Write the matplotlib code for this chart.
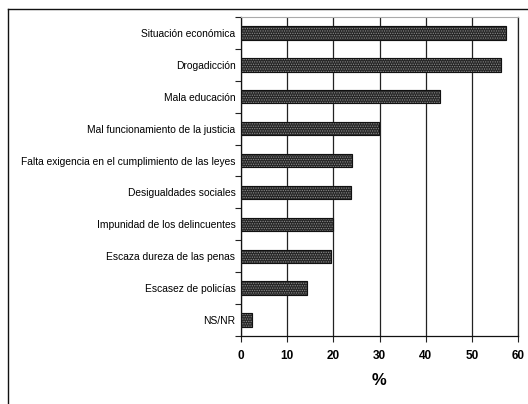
import matplotlib
matplotlib.use("Agg")
import matplotlib.pyplot as plt
import numpy as np
from matplotlib.lines import Line2D

categories = [
    "Situación económica",
    "Drogadicción",
    "Mala educación",
    "Mal funcionamiento de la justicia",
    "Falta exigencia en el cumplimiento de las leyes",
    "Desigualdades sociales",
    "Impunidad de los delincuentes",
    "Escaza dureza de las penas",
    "Escasez de policías",
    "NS/NR",
]
values = [57.3, 56.3, 43.2, 29.9, 24.1, 23.9, 20.0, 19.4, 14.2, 2.3]
xticks = [0, 10, 20, 30, 40, 50, 60]

plt.rcParams['font.family'] = ['Liberation Sans', 'DejaVu Sans']
plt.rcParams['hatch.linewidth'] = 0.6

fig = plt.figure(figsize=(5.28, 4.04), dpi=100)
ax = fig.add_axes([241/528, 68/404, 277/528, 319/404])

y = np.arange(len(categories))
ax.barh(y, values, height=0.42, color='#262626', edgecolor='#111111',
        hatch='.......', linewidth=0.8, zorder=3)
for b in ax.patches:
    b.set_edgecolor('#8a8a8a')
# redraw outline
ax.barh(y, values, height=0.42, facecolor='none', edgecolor='#111111',
        linewidth=0.8, zorder=4)

ax.set_xlim(0, 60)
ax.set_ylim(len(categories) - 0.5, -0.5)
ax.set_yticks(y)
ax.set_yticklabels(categories, fontsize=7.4)
ax.set_yticks(np.arange(len(categories) + 1) - 0.5, minor=True)
ax.tick_params(axis='y', which='major', length=0, pad=4)
ax.tick_params(axis='y', which='minor', length=4, width=0.8, color='#222222')

ax.set_xticks(xticks)
ax.set_xticklabels([str(t) for t in xticks], fontsize=8.5, fontweight='bold')
ax.tick_params(axis='x', which='major', length=4, width=0.8, color='#222222', pad=6)

ax.grid(axis='x', color='#222222', linewidth=0.9, zorder=1)
ax.set_axisbelow(True)

for s in ['left', 'bottom']:
    ax.spines[s].set_color('#111111')
    ax.spines[s].set_linewidth(0.9)
ax.spines['right'].set_color('#222222')
ax.spines['right'].set_linewidth(0.9)
ax.spines['top'].set_color('#aaaaaa')
ax.spines['top'].set_linewidth(0.8)

ax.set_xlabel('%', fontsize=12, fontweight='bold', labelpad=8)

# outer frame lines (left and top)
fig.add_artist(Line2D([8/528, 8/528], [0, 1 - 9/404], transform=fig.transFigure,
                      color='#111111', linewidth=1.0))
fig.add_artist(Line2D([8/528, 1], [1 - 9/404, 1 - 9/404], transform=fig.transFigure,
                      color='#111111', linewidth=1.0))

fig.savefig('out.png', dpi=100)
